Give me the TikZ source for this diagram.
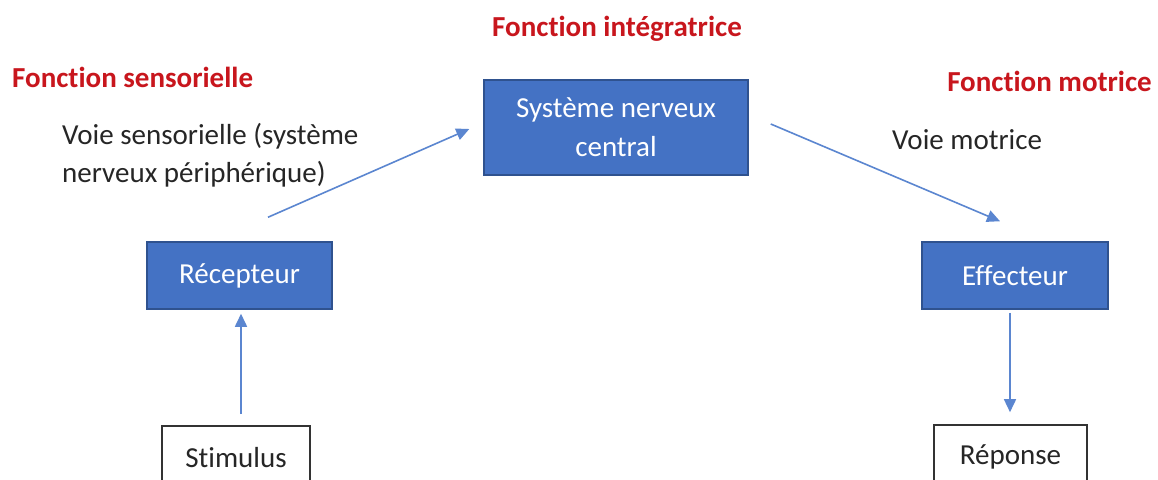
\documentclass[tikz,border=0pt]{standalone}
\usepackage{fontspec}
\setmainfont[Ligatures={NoCommon}]{Carlito}
\usetikzlibrary{arrows.meta,calc}
\definecolor{boxblue}{HTML}{4472C4}
\definecolor{boxedge}{HTML}{2F528F}
\definecolor{arrblue}{HTML}{5B86D0}
\definecolor{titlered}{HTML}{C8161D}
\definecolor{txt}{HTML}{262626}
\begin{document}
\begin{tikzpicture}[x=1pt,y=-1pt,
  bluebox/.style={draw=boxedge,line width=1.5pt,fill=boxblue,text=white,inner sep=0pt,
    font=\fontsize{29}{39}\selectfont,align=center},
  whitebox/.style={draw=black!80,line width=1.6pt,fill=white,text=txt,inner sep=0pt,
    font=\fontsize{29}{34}\selectfont},
  redtitle/.style={text=titlered,font=\bfseries\fontsize{29}{34}\selectfont,inner sep=0pt},
  plain/.style={text=txt,font=\fontsize{29}{34}\selectfont,inner sep=0pt},
  arr/.style={draw=arrblue,line width=1.6pt,-{Triangle[length=13pt,width=12pt]}}]
\clip (0,0) rectangle (1158,479);
\fill[white] (0,0) rectangle (1158,479);
% boxes
\node[bluebox,minimum width=264pt,minimum height=95pt] (snc) at (616,127.5) {Système nerveux\\central};
\node[bluebox,minimum width=185pt,minimum height=67pt] (rec) at (239.5,275.5) {Récepteur};
\node[bluebox,minimum width=186pt,minimum height=67pt] (eff) at (1015,275.5) {Effecteur};
\node[whitebox,minimum width=148pt,minimum height=64pt] (stim) at (236,458) {Stimulus};
\node[whitebox,minimum width=153pt,minimum height=64pt] (rep) at (1010.5,457) {Réponse};
% titles
\node[redtitle] (t1) at (617,29) {Fonction intégratrice};
\node[redtitle,anchor=west] (t2) at (12,77) {Fonction sensorielle};
\node[redtitle,anchor=east] (t3) at (1152,81) {Fonction motrice};
% labels
\node[plain,anchor=base west] (l1) at (62,144) {Voie sensorielle (système};
\node[plain,anchor=base west] (l1b) at (62,182) {nerveux périphérique)};
\node[plain,anchor=base west] (l2) at (892,149) {Voie motrice};
% arrows
\draw[arr] ([yshift=11pt]stim.north -| 241,0) -- ([yshift=-4pt]rec.south -| 241,0);
\draw[arr] ([xshift=28.5pt,yshift=24pt]rec.north) -- ([xshift=-14pt,yshift=-1.5pt]snc.west);
\draw[arr] ([xshift=22pt,yshift=3.5pt]snc.east) -- ([xshift=-15pt,yshift=20pt]eff.north);
\draw[arr] ([yshift=-3pt]eff.south -| 1010,0) -- ([yshift=12pt]rep.north -| 1010,0);
\end{tikzpicture}
\end{document}
